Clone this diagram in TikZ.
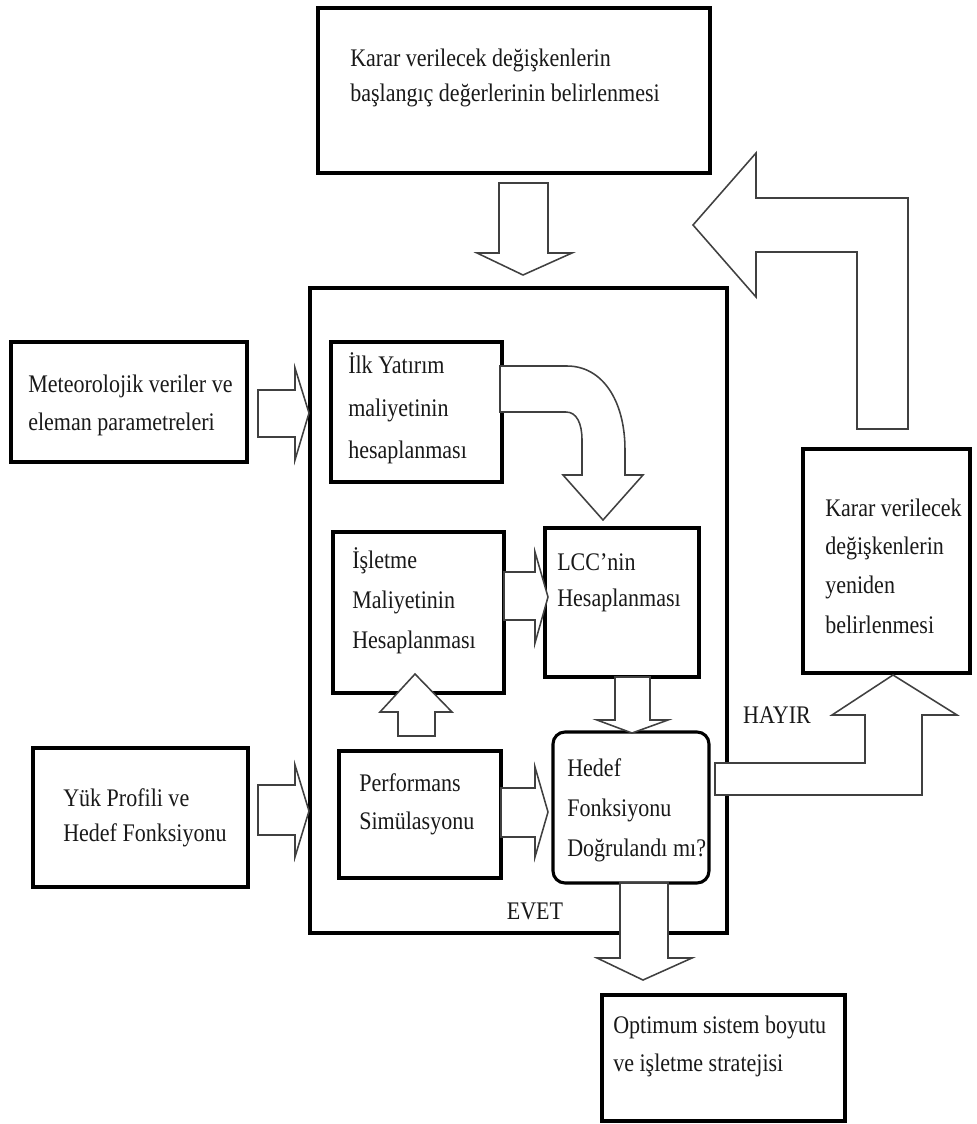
\documentclass[tikz,border=0pt]{standalone}
\usepackage{fontspec}
\setmainfont{Liberation Serif}[FakeStretch=0.87]
\usetikzlibrary{fit}
\tikzset{
  box/.style={draw=black, line width=2.2pt, inner sep=0pt, fill=white},
  frame/.style={draw=black, line width=2.9pt, inner sep=0pt},
  blk/.style={draw=black!75, line width=1.1pt, fill=white, line join=miter},
  txt/.style={anchor=west, inner sep=0pt, text height=12.5pt, text depth=3.5pt, font=\fontsize{18}{20}\selectfont, text=black!90},
}
\begin{document}
\begin{tikzpicture}[x=0.025cm, y=-0.025cm]
\useasboundingbox (0,0) rectangle (976,1124);
\fill[white] (0,0) rectangle (976,1124);

% main container
\node[frame, fit={(310,288) (727,933)}] (cont) {};

% boxes
\node[box, fit={(318,8) (710,173)}] (top) {};
\node[box, fit={(11,342) (247,462)}] (met) {};
\node[box, fit={(33,748) (248,887)}] (yuk) {};
\node[box, fit={(331,342) (502,482)}] (ilk) {};
\node[box, fit={(333,532) (504,693)}] (isl) {};
\node[box, fit={(545,528) (699,677)}] (lcc) {};
\node[box, fit={(339,751) (501,878)}] (perf) {};
\node[box, rounded corners=0.3cm, fit={(553,732) (709,883)}] (hedef) {};
\node[box, fit={(803,449) (970,673)}] (karar) {};
\node[box, fit={(602,995) (845,1121)}] (opt) {};

% block arrows
\draw[blk] (499,183) -- (548,183) -- (548,253) -- (572,253) -- (523,275) -- (477,253) -- (499,253) -- cycle;
\draw[blk] (258,390) -- (295,390) -- (295,368) -- (309,413) -- (295,460) -- (295,437) -- (258,437) -- cycle;
\draw[blk] (258,785) -- (295,785) -- (295,765) -- (309,811) -- (295,857) -- (295,835) -- (258,835) -- cycle;
\draw[blk] (500,366) -- (567,366) .. controls (602,366) and (625,400) .. (625,450) -- (625,475) -- (643,475) -- (603,520) -- (563,475) -- (582,475) -- (582,440) .. controls (582,424) and (577,412) .. (566,412) -- (500,412) -- cycle;
\draw[blk] (504,572) -- (535,572) -- (535,552) -- (548,597) -- (535,643) -- (535,620) -- (504,620) -- cycle;
\draw[blk] (398,736) -- (435,736) -- (435,712) -- (452,712) -- (415,674) -- (380,712) -- (398,712) -- cycle;
\draw[blk] (615,677) -- (650,677) -- (650,720) -- (668,720) -- (632,733) -- (597,720) -- (615,720) -- cycle;
\draw[blk] (501,788) -- (535,788) -- (535,767) -- (548,812) -- (535,857) -- (535,837) -- (501,837) -- cycle;
\draw[blk] (620,883) -- (668,883) -- (668,958) -- (692,958) -- (643,980) -- (597,958) -- (620,958) -- cycle;
\draw[blk] (715,763) -- (865,763) -- (865,715) -- (832,715) -- (893,675) -- (957,715) -- (922,715) -- (922,795) -- (715,795) -- cycle;
\draw[blk] (857,429) -- (908,429) -- (908,198) -- (756,198) -- (756,153) -- (693,225) -- (756,297) -- (756,252) -- (857,252) -- cycle;

% texts
\node[txt] (top1) at (350,60) {Karar verilecek değişkenlerin};
\node[txt] (top2) at (350,95) {başlangıç değerlerinin belirlenmesi};
\node[txt] (met1) at (28,386) {Meteorolojik veriler ve};
\node[txt] (met2) at (28,424) {eleman parametreleri};
\node[txt] (ilk1) at (348,367) {İlk Yatırım};
\node[txt] (ilk2) at (348,410) {maliyetinin};
\node[txt] (ilk3) at (348,452) {hesaplanması};
\node[txt] (isl1) at (352,562) {İşletme};
\node[txt] (isl2) at (352,602) {Maliyetinin};
\node[txt] (isl3) at (352,642) {Hesaplanması};
\node[txt] (lcc1) at (557,564) {LCC'nin};
\node[txt] (lcc2) at (557,600) {Hesaplanması};
\node[txt] (kr1) at (825,510) {Karar verilecek};
\node[txt] (kr2) at (825,548) {değişkenlerin};
\node[txt] (kr3) at (825,587) {yeniden};
\node[txt] (kr4) at (825,627) {belirlenmesi};
\node[txt] (yuk1) at (63,800) {Yük Profili ve};
\node[txt] (yuk2) at (63,835) {Hedef Fonksiyonu};
\node[txt] (perf1) at (359,785) {Performans};
\node[txt] (perf2) at (359,823) {Simülasyonu};
\node[txt] (hed1) at (567,770) {Hedef};
\node[txt] (hed2) at (567,810) {Fonksiyonu};
\node[txt] (hed3) at (567,850) {Doğrulandı mı?};
\node[txt] (opt1) at (613,1027) {Optimum sistem boyutu};
\node[txt] (opt2) at (613,1065) {ve işletme stratejisi};
\node[txt, anchor=center] (hayir) at (777,717) {HAYIR};
\node[txt, anchor=center] (evet) at (535,913) {EVET};
\end{tikzpicture}
\end{document}
